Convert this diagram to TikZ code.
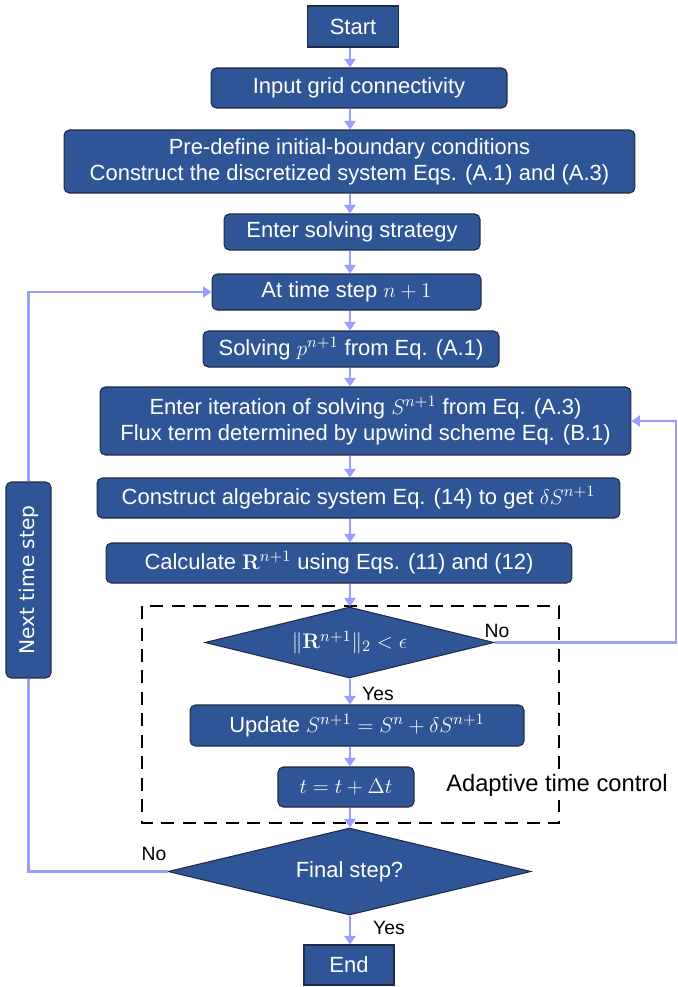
\documentclass[tikz,border=0pt]{standalone}
\usepackage{amsmath}
\usepackage[no-math]{fontspec}
\setmainfont{Liberation Sans}
\newfontfamily\sidefont{DejaVu Sans}
\usepackage{tikz}
\usetikzlibrary{arrows.meta, calc, positioning, shapes.geometric}
\definecolor{boxblue}{HTML}{2F5597}
\definecolor{boxline}{HTML}{1F2A44}
\definecolor{flowline}{HTML}{9C9CFF}
\newcommand{\boxfont}{\fontsize{12.5}{15}\selectfont}
\newcommand{\lblfont}{\fontsize{11}{13}\selectfont}
\tikzset{
  >={Triangle[length=0.17cm,width=0.22cm]},
  procbox/.style={
    draw=boxline,fill=boxblue,text=white,rounded corners=3pt,
    align=center,inner sep=1pt,font=\boxfont,line width=0.6pt
  },
  termbox/.style={procbox,rounded corners=0pt},
  decision/.style={
    diamond,aspect=4,draw=boxline,fill=boxblue,text=white,inner sep=0pt,
    font=\boxfont,line width=0.6pt
  },
  flow/.style={draw=flowline,line width=1.4pt,->},
  loopline/.style={draw=flowline,line width=1.4pt},
  yesno/.style={font=\lblfont,text=black,inner sep=1pt}, %branch label
  framebox/.style={draw=black,line width=1.6pt,dash pattern=on 0.26cm off 0.17cm}
}

\begin{document}
\begin{tikzpicture}[x=0.02cm,y=-0.02cm]
  \useasboundingbox (0,0) rectangle (677,987);
  \coordinate (spine) at (350,0);

  % Adaptive time control frame
  \draw[framebox] (142,606) rectangle (559,823);
  \node[font=\fontsize{13.5}{16}\selectfont,fill=white,inner sep=2pt] (adapt) at (557,785) {Adaptive time control};

  % main column
  \node[termbox,minimum width=1.82cm,minimum height=0.82cm] (start) at (353,26.5) {Start};
  \node[procbox,minimum width=5.92cm,minimum height=0.80cm] (input) at (359,88) {Input grid connectivity};
  \node[procbox,minimum width=11.42cm,minimum height=1.26cm] (predef) at (349.5,161.5)
    {Pre-define initial-boundary conditions\\Construct the discretized system Eqs. (A.1) and (A.3)};
  \node[procbox,minimum width=5.12cm,minimum height=0.72cm] (strategy) at (352,232) {Enter solving strategy};
  \node[procbox,minimum width=5.38cm,minimum height=0.72cm] (timestep) at (346.5,292) {At time step $n+1$};
  \node[procbox,minimum width=5.92cm,minimum height=0.72cm] (solvep) at (351,349) {Solving $p^{n+1}$ from Eq. (A.1)};
  \node[procbox,minimum width=10.62cm,minimum height=1.36cm] (iter) at (365.5,421)
    {Enter iteration of solving $S^{n+1}$ from Eq. (A.3)\\Flux term determined by upwind scheme Eq. (B.1)};
  \node[procbox,minimum width=10.46cm,minimum height=0.80cm] (algeb) at (358.5,498)
    {Construct algebraic system Eq. (14) to get $\delta S^{n+1}$};
  \node[procbox,minimum width=9.32cm,minimum height=0.80cm] (calc) at (339,563)
    {Calculate $\mathbf{R}^{n+1}$ using Eqs. (11) and (12)};
  \node[decision,minimum width=5.78cm,minimum height=1.42cm] (check) at (349.5,642.5)
    {$\|\mathbf{R}^{n+1}\|_2<\epsilon$};
  \node[procbox,minimum width=6.68cm,minimum height=0.82cm] (update) at (357,725.5)
    {Update $S^{n+1}=S^n+\delta S^{n+1}$};
  \node[procbox,minimum width=2.72cm,minimum height=0.80cm] (tstep) at (346,787) {$t=t+\Delta t$};
  \node[decision,minimum width=7.26cm,minimum height=1.74cm] (final) at (349.5,871.5) {Final step?};
  \node[termbox,minimum width=1.80cm,minimum height=0.80cm] (end) at (349,965) {End};

  % side box
  \node[procbox,rotate=90,font=\sidefont\fontsize{11.5}{14}\selectfont,
    minimum width=3.92cm,minimum height=0.90cm] (next) at (28.5,580) {Next time step};

  % straight arrows
  \foreach \a/\b in {start/input,input/predef,predef/strategy,strategy/timestep,
    timestep/solvep,solvep/iter,iter/algeb,algeb/calc,calc/check,check/update,
    update/tstep,tstep/final,final/end}
    \draw[flow] (\a.south -| spine) -- (\b.north -| spine);

  % inner loop
  \coordinate (rturn) at (676,642.5);
  \draw[flow] (check.east) -- (rturn) |- (iter.east);

  % outer loop
  \draw[loopline] (final.west) -| (next.west);
  \draw[flow] (next.east) |- (timestep.west);

  % labels
  \node[yesno] (no1) at (497,631) {No};
  \node[yesno] (yes1) at (378,694) {Yes};
  \node[yesno] (no2) at (154,854) {No};
  \node[yesno] (yes2) at (389,928) {Yes};
\end{tikzpicture}
\end{document}
